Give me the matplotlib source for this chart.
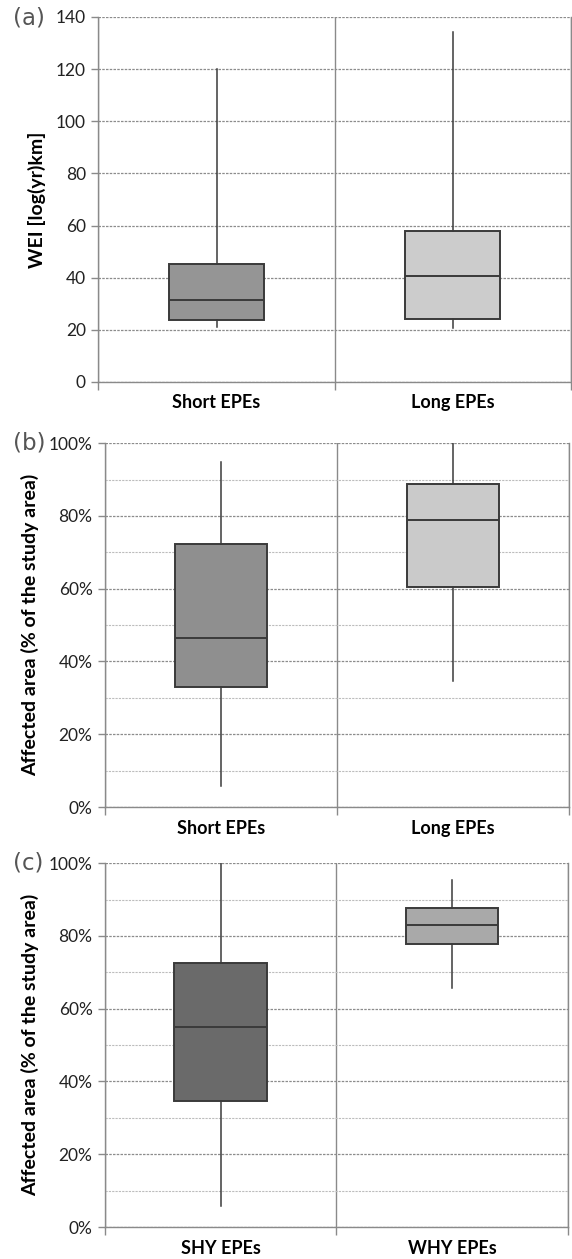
import matplotlib
matplotlib.use("Agg")
import matplotlib.pyplot as plt
from matplotlib.ticker import MultipleLocator, PercentFormatter, FixedLocator

# Данные: нижний ус, Q1, медиана, Q3, верхний ус
labels_ab = ["Short EPEs", "Long EPEs"]
labels_c = ["SHY EPEs", "WHY EPEs"]

wei_short = [21.0, 23.7, 31.6, 45.4, 120.2]
wei_long = [20.7, 24.3, 40.7, 57.8, 134.3]

area_short = [5.7, 33.1, 46.4, 72.2, 94.8]
area_long = [34.6, 60.4, 78.8, 88.9, 100.0]

area_shy = [5.8, 34.5, 55.1, 72.5, 100.0]
area_why = [65.8, 77.7, 83.0, 87.6, 95.3]

plt.rcParams['font.family'] = ['Lato', 'DejaVu Sans']

EDGE = "#3a3a3a"
AX_COL = "#8a8a8a"


def to_stats(vals, label):
    lo, q1, med, q3, hi = vals
    return dict(whislo=lo, q1=q1, med=med, q3=q3, whishi=hi, label=label, fliers=[])


def draw_panel(ax, series, labels, colors, ymax, major, minor, pct, ylabel):
    stats = [to_stats(s, l) for s, l in zip(series, labels)]
    bp = ax.bxp(stats, positions=[0, 1], widths=0.4, showcaps=False,
                showfliers=False, patch_artist=True,
                boxprops=dict(edgecolor=EDGE, linewidth=1.4),
                medianprops=dict(color=EDGE, linewidth=1.4),
                whiskerprops=dict(color=EDGE, linewidth=1.1))
    for patch, c in zip(bp['boxes'], colors):
        patch.set_facecolor(c)
    for art in bp['boxes'] + bp['medians'] + bp['whiskers']:
        art.set_zorder(3)

    ax.set_xlim(-0.5, 1.5)
    ax.set_ylim(0, ymax)
    ax.yaxis.set_major_locator(MultipleLocator(major))
    if minor:
        ax.yaxis.set_minor_locator(MultipleLocator(minor))
        ax.grid(True, which='minor', axis='y', linestyle=(0, (2, 1)),
                color='#bdbdbd', linewidth=0.8)
        ax.tick_params(axis='y', which='minor', length=0)
    if pct:
        ax.yaxis.set_major_formatter(PercentFormatter(xmax=100, decimals=0))
    ax.grid(True, which='major', axis='y', linestyle=(0, (2, 1)),
            color='#8c8c8c', linewidth=0.9)

    # вертикальные разделители категорий
    ax.xaxis.set_minor_locator(FixedLocator([-0.5, 0.5, 1.5]))
    ax.grid(True, which='minor', axis='x', color=AX_COL, linewidth=1.0)
    ax.set_xticks([0, 1])
    ax.set_xticklabels(labels, fontsize=13, fontweight='bold')
    ax.tick_params(axis='x', which='major', length=0, pad=9)
    ax.tick_params(axis='x', which='minor', length=6, color=AX_COL, width=1.0)
    ax.tick_params(axis='y', which='major', length=5, color=AX_COL, width=1.0,
                   labelsize=12.5, pad=4, labelcolor='#222222')
    ax.set_axisbelow(True)

    ax.spines['top'].set_visible(False)
    for spine in ['left', 'bottom', 'right']:
        ax.spines[spine].set_color(AX_COL)
        ax.spines[spine].set_linewidth(1.0)

    ax.set_ylabel(ylabel, fontsize=14, fontweight='bold', labelpad=7)


fig = plt.figure(figsize=(5.72, 12.59), dpi=100)
ax_a = fig.add_axes([0.172, 0.6966, 0.826, 0.29])
ax_b = fig.add_axes([0.1836, 0.359, 0.811, 0.289])
ax_c = fig.add_axes([0.1836, 0.0254, 0.8086, 0.289])

draw_panel(ax_a, [wei_short, wei_long], labels_ab, ['#959595', '#cccccc'],
           140, 20, None, False, "WEI [log(yr)km]")
draw_panel(ax_b, [area_short, area_long], labels_ab, ['#8f8f8f', '#cacaca'],
           100, 20, 10, True, "Affected area (% of the study area)")
draw_panel(ax_c, [area_shy, area_why], labels_c, ['#6a6a6a', '#a9a9a9'],
           100, 20, 10, True, "Affected area (% of the study area)")

# буквы панелей
for letter, ypix in [("(a)", 18), ("(b)", 443), ("(c)", 863)]:
    fig.text(13 / 572, 1 - ypix / 1259, letter, fontsize=16.5,
             fontfamily='DejaVu Sans', color='#555555', ha='left', va='center')

fig.savefig("out.png", dpi=100)
